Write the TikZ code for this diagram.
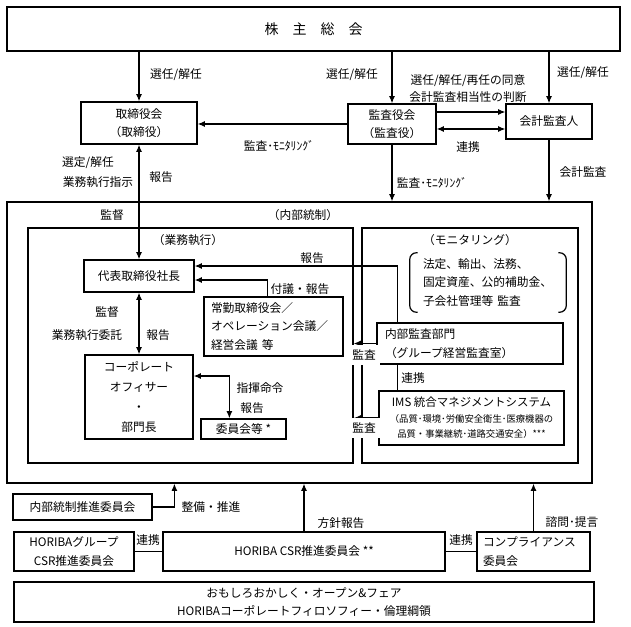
\documentclass[tikz,border=0pt]{standalone}
\usepackage{fontspec}
\setmainfont{Noto Sans CJK JP}
\usetikzlibrary{calc,positioning,arrows.meta}

\begin{document}
\begin{tikzpicture}[x=0.75pt,y=-0.75pt,
  font=\fontsize{8.8}{14}\selectfont,
  sz/.style 2 args={minimum width=#1*0.75pt,minimum height=#2*0.75pt},
  box/.style={draw,line width=0.9pt,inner sep=0pt,align=center},
  lnk/.style={line width=0.9pt},
  arr/.style={lnk,-{Latex[length=5.5pt,width=4.5pt]}},
  darr/.style={lnk,{Latex[length=5.5pt,width=4.5pt]}-{Latex[length=5.5pt,width=4.5pt]}}]
\useasboundingbox (0,0) rectangle (631,627);

% boxes
\node[box,sz={613}{44},font=\fontsize{10.5}{12}\selectfont] (gm) at (313.5,29) {株\hspace{1em}主\hspace{1em}総\hspace{1em}会};
\node[box,sz={116}{42}] (tb) at (139,123) {取締役会\\（取締役）};
\node[box,sz={88}{40}] (kan) at (392,124) {監査役会\\（監査役）};
\node[box,sz={86}{35}] (kaikei) at (549,121.5) {会計監査人};
\node[box,sz={585}{281}] (naibu) at (299.5,342.5) {};
\node[box,sz={325}{235}] (gyomu) at (190.5,345.5) {};
\node[box,sz={216}{235}] (moni) at (470,345.5) {};
\node[box,sz={110}{32}] (pres) at (139,276) {代表取締役社長};
\node[box,sz={139}{59},align=left,text width=93.75pt,inner xsep=5.25pt] (jokin) at (273.5,326.5) {常勤取締役会／\\オペレーション会議／\\経営会議 等};
\node[box,sz={108}{84},font=\fontsize{8.8}{15}\selectfont] (corp) at (139,397) {コーポレート\\オフィサー\\・\\部門長};
\node[box,sz={85}{20}] (iin) at (243.5,429) {委員会等 *};
\node[sz={156}{59},align=left,text width=97.5pt,inner xsep=9.75pt] (brk) at (488,282.5) {法定、輸出、法務、\\固定資産、公的補助金、\\子会社管理等 監査};
\node[box,sz={186}{41},align=left,text width=127.5pt,inner xsep=6pt] (naikan) at (470,343.5) {内部監査部門\\（グループ経営監査室）};
\node[box,sz={185}{54},font=\fontsize{7}{11.6}\selectfont] (ims) at (471.5,418) {\fontsize{8.6}{11.6}\selectfont IMS 統合マネジメントシステム\\（品質･環境･労働安全衛生･医療機器の\\品質・事業継続･道路交通安全）***};
\node[box,sz={139}{26}] (ns) at (82.5,507) {内部統制推進委員会};
\node[box,sz={120}{39}] (grp) at (74,551.5) {HORIBAグループ\\CSR推進委員会};
\node[box,sz={282}{39}] (csr) at (304,551.5) {HORIBA CSR推進委員会 **};
\node[box,sz={113}{39},align=left,text width=75.75pt,inner xsep=4.5pt] (comp) at (533.5,551.5) {コンプライアンス\\委員会};
\node[box,sz={580}{40}] (base) at (304,602) {おもしろおかしく・オープン\&フェア\\HORIBAコーポレートフィロソフィー・倫理綱領};

% brackets
\draw[lnk,rounded corners=5pt] ($(brk.north west)+(8,0)$) -- (brk.north west) -- (brk.south west) -- ($(brk.south west)+(8,0)$);
\draw[lnk,rounded corners=5pt] ($(brk.north east)+(-8,0)$) -- (brk.north east) -- (brk.south east) -- ($(brk.south east)+(-8,0)$);

% connectors
\draw[arr] (gm.south -| tb.north) -- (tb.north);
\draw[arr] (gm.south -| kan.north) -- (kan.north);
\draw[arr] (gm.south -| kaikei.north) -- (kaikei.north);
\draw[arr] (kan.west) -- (kan.west -| tb.east);
\coordinate (k1) at ($(kan.east)+(0,-12)$);
\coordinate (k2) at ($(kan.east)+(0,5)$);
\draw[arr] (k1) -- (k1 -| kaikei.west);
\draw[darr] (k2) -- (k2 -| kaikei.west);
\draw[darr] (tb.south) -- (pres.north);
\draw[arr] (kan.south) -- (kan.south |- naibu.north);
\draw[arr] (kaikei.south) -- (kaikei.south |- naibu.north);
\draw[darr] (pres.south) -- (corp.north);
\coordinate (r1) at ($(naikan.north west)+(21,0)$);
\draw[arr] (r1) |- ($(pres.east)+(0,-10)$);
\coordinate (f1) at ($(jokin.north west)+(64,0)$);
\draw[arr] (f1) |- ($(pres.east)+(0,4)$);
\draw[darr] ($(corp.east)+(0,-21)$) -| ($(iin.north west)+(29,0)$);
\draw[lnk] (r1 |- naikan.south) -- (r1 |- ims.north);
\draw[arr] (naikan.west) -- (naikan.west -| gyomu.east);
\draw[arr] (ims.west) -- (ims.west -| gyomu.east);
\coordinate (n1) at ($(naibu.south west)+(168,0)$);
\draw[arr] (ns.east) -| (n1);
\draw[arr] (csr.north) -- (csr.north |- naibu.south);
\draw[arr] (comp.north) -- (comp.north |- naibu.south);
\draw[lnk] (grp.east) -- (csr.west);
\draw[lnk] (csr.east) -- (comp.west);

% labels
\node (l1) at (176,75) {選任/解任};
\node (l2) at (352,75) {選任/解任};
\node (l3) at (583,73) {選任/解任};
\node (l4) at (468,81) {選任/解任/再任の同意};
\node (l5) at (468,97) {会計監査相当性の判断};
\node (l6) at (279,146) {監査･ﾓﾆﾀﾘﾝｸﾞ};
\node (l7) at (468,147) {連携};
\node (l8) at (88,163) {選定/解任};
\node (l9) at (98,182) {業務執行指示};
\node (l10) at (161,177) {報告};
\node (l11) at (432,183) {監査･ﾓﾆﾀﾘﾝｸﾞ};
\node (l12) at (583,172) {会計監査};
\node (l13) at (112,215) {監督};
\node (l14) at (303,215) {（内部統制）};
\node (l15) at (188,240) {（業務執行）};
\node (l16) at (470,240) {（モニタリング）};
\node (l17) at (312,258) {報告};
\node (l18) at (300,289) {付議・報告};
\node (l19) at (107,312) {監督};
\node (l20) at (87,335) {業務執行委託};
\node (l21) at (158,335) {報告};
\node (l22) at (260,388) {指揮命令};
\node (l23) at (252,408) {報告};
\node (l24) at (413,378) {連携};
\node[fill=white] (l25) at (364,355) {監査};
\node[fill=white] (l26) at (364,428) {監査};
\node (l27) at (211,507) {整備・推進};
\node (l28) at (341,523) {方針報告};
\node (l29) at (572,522) {諮問･提言};
\node (l30) at (148,540) {連携};
\node (l31) at (461,540) {連携};
\end{tikzpicture}
\end{document}
